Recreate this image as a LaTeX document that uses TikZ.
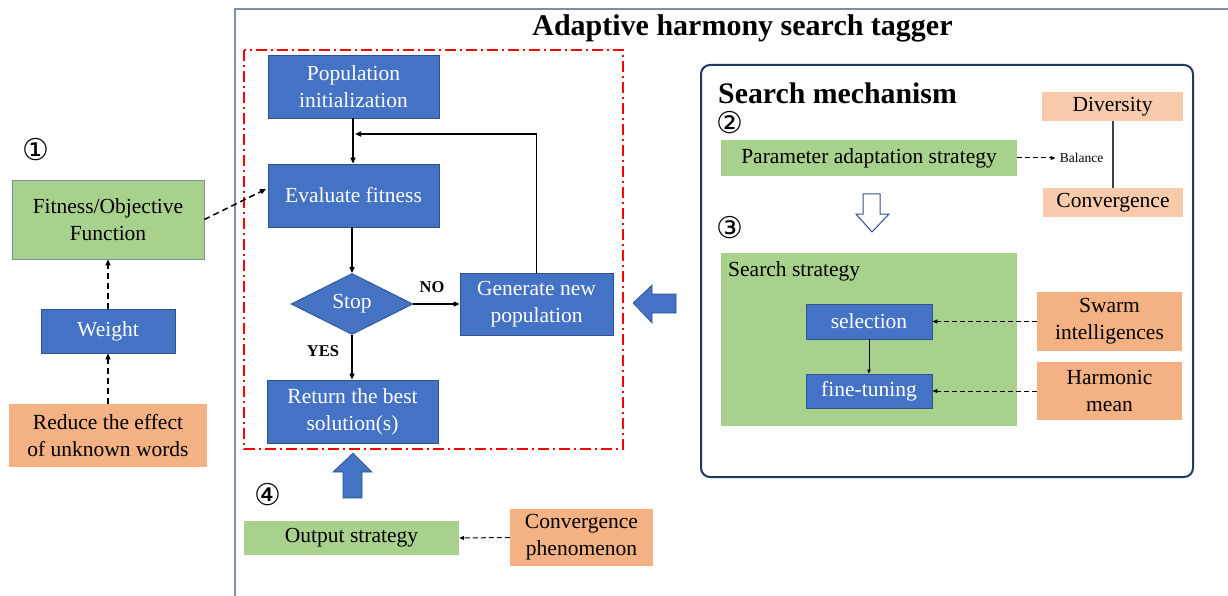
\documentclass[tikz,border=0pt]{standalone}
\usepackage{fontspec}
\setmainfont{Liberation Serif}
\newfontfamily\symfont{DejaVu Sans}
\usetikzlibrary{shapes.geometric,arrows.meta}
\definecolor{pblue}{HTML}{4472C4}
\definecolor{pblueedge}{HTML}{2F528F}
\definecolor{pgreen}{HTML}{A9D18E}
\definecolor{porange}{HTML}{F4B183}
\definecolor{plight}{HTML}{F8CBAD}
\definecolor{pnavy}{HTML}{1F3864}
\definecolor{pframe}{HTML}{7F8FA9}
\definecolor{pred}{HTML}{FF0000}
\tikzset{
  base/.style={inner sep=0pt, align=center, font=\fontsize{21.5}{27}\selectfont},
  bluebox/.style={base, fill=pblue, draw=pblueedge, line width=0.8pt, text=white},
  greenbox/.style={base, fill=pgreen},
  orangebox/.style={base, fill=porange},
  lightbox/.style={base, fill=plight},
  flow/.style={line width=1.5pt, -{Triangle[length=6pt,width=5pt]}},
  dflow/.style={line width=1.5pt, dash pattern=on 6pt off 4pt, -{Triangle[length=6pt,width=5pt]}},
  tdflow/.style={line width=1pt, dash pattern=on 5pt off 3pt, -{Triangle[length=5pt,width=4pt]}},
  circnum/.style={inner sep=0pt, font=\symfont\fontsize{30}{30}\selectfont},
  lbl/.style={inner sep=0pt, font=\bfseries\fontsize{16.5}{16.5}\selectfont},
}
\begin{document}
\begin{tikzpicture}[x=1pt,y=-1pt]
\useasboundingbox (0,0) rectangle (1228,596);
% outer frame
\draw[pframe, line width=2pt] (234.5,600) -- (234.5,9.5) -- (1232,9.5);
\node[inner sep=0pt, font=\bfseries\fontsize{30}{30}\selectfont] (title) at (742.5,28) {Adaptive harmony search tagger};
% red dash-dot frame
\draw[pred, line width=1.6pt, dash pattern=on 11pt off 4pt on 2pt off 4pt] (244,50) rectangle (623,449);
% flowchart
\node[bluebox, minimum width=171pt, minimum height=63pt] (pop) at (353.5,86.5) {Population\\initialization};
\node[bluebox, minimum width=171pt, minimum height=63pt] (eval) at (353.5,195.5) {Evaluate fitness};
\node[bluebox, shape=diamond, minimum width=122pt, minimum height=61pt] (stop) at (352,304) {Stop};
\node[bluebox, minimum width=153pt, minimum height=62pt] (gen) at (536.5,304) {Generate new\\population};
\node[bluebox, minimum width=171pt, minimum height=63pt] (ret) at (352.5,411.5) {Return the best\\solution(s)};
\draw[flow] (pop.south -| 353,0) -- (eval.north -| 353,0);
\draw[flow] (eval.south -| 352,0) -- (stop.north);
\draw[flow] (stop.east) -- (gen.west);
\draw[flow] (stop.south) -- (ret.north -| stop.south);
\coordinate (fb) at (355,134);
\draw[flow] (gen.north) |- (fb);
\node[lbl] (no) at (432,287) {NO};
\node[lbl] (yes) at (323,351) {YES};
% up block arrow
\draw[fill=pblue, draw=pblueedge, line width=0.6pt] (353,453) -- (372,472) -- (362,472) -- (362,498) -- (343,498) -- (343,472) -- (333,472) -- cycle;
\node[circnum] (n4) at (268,495) {④};
\node[greenbox, minimum width=215pt, minimum height=34pt] (out) at (351.5,538) {Output strategy};
\node[orangebox, minimum width=143pt, minimum height=57pt] (cphen) at (581.5,537.5) {Convergence\\phenomenon};
\draw[tdflow] (cphen.west) -- (out.east);
% left column
\node[circnum] (n1) at (36,150) {①};
\node[greenbox, draw=pframe, line width=0.8pt, minimum width=192pt, minimum height=79pt] (fit) at (108,219.5) {Fitness/Objective\\Function};
\node[bluebox, minimum width=134pt, minimum height=44pt] (weight) at (108,331) {Weight};
\node[orangebox, minimum width=198pt, minimum height=63pt] (reduce) at (108,435.5) {Reduce the effect\\of unknown words};
\draw[dflow] (reduce.north) -- (weight.south);
\draw[dflow] (weight.north) -- (fit.south);
\coordinate (evin) at (266,189);
\draw[dflow] (fit.east) -- (evin);
% left block arrow
\draw[fill=pblue, draw=pblueedge, line width=0.6pt] (633,303) -- (652,285) -- (652,294) -- (676,294) -- (676,313) -- (652,313) -- (652,323) -- cycle;
% search mechanism
\draw[pnavy, line width=2pt, rounded corners=9pt] (701,65) rectangle (1193,477);
\node[anchor=west, inner sep=0pt, font=\bfseries\fontsize{29.8}{30}\selectfont] (smt) at (718,93) {Search mechanism};
\node[circnum] (n2) at (730,123) {②};
\node[greenbox, minimum width=296pt, minimum height=36pt] (param) at (869,158) {Parameter adaptation strategy};
\node[inner sep=0pt, font=\fontsize{13.5}{14}\selectfont] (bal) at (1081.5,158) {Balance};
\draw[tdflow] (param.east) -- ([xshift=-4pt]bal.west);
\node[lightbox, minimum width=141pt, minimum height=29pt] (div) at (1112.5,106.5) {Diversity};
\node[lightbox, minimum width=140pt, minimum height=29pt] (conv) at (1113,202.5) {Convergence};
\draw[black!75, line width=1.2pt] (div.south -| 1113,0) -- (conv.north -| 1113,0);
% hollow down arrow
\draw[fill=white, draw=pblueedge, line width=1pt] (863,194) -- (880,194) -- (880,214) -- (889,214) -- (872,232) -- (856,214) -- (863,214) -- cycle;
\node[circnum] (n3) at (730,228) {③};
\node[greenbox, minimum width=296pt, minimum height=173pt] (sstrat) at (869,339.5) {};
\node[anchor=west, inner sep=0pt, font=\fontsize{21.5}{27}\selectfont] (sstl) at (728,271) {Search strategy};
\node[bluebox, minimum width=126pt, minimum height=35pt] (sel) at (869,321.5) {selection};
\node[bluebox, minimum width=126pt, minimum height=34pt] (fine) at (869,391) {fine-tuning};
\draw[line width=0.9pt, -{Triangle[length=4pt,width=3.5pt]}] (sel.south) -- (fine.north);
\node[orangebox, minimum width=145pt, minimum height=59pt] (swarm) at (1109.5,321.5) {Swarm\\intelligences};
\node[orangebox, minimum width=145pt, minimum height=58pt] (harm) at (1109.5,391) {Harmonic\\mean};
\draw[tdflow] (swarm.west) -- (sel.east);
\draw[tdflow] (harm.west) -- (fine.east);
\end{tikzpicture}
\end{document}
